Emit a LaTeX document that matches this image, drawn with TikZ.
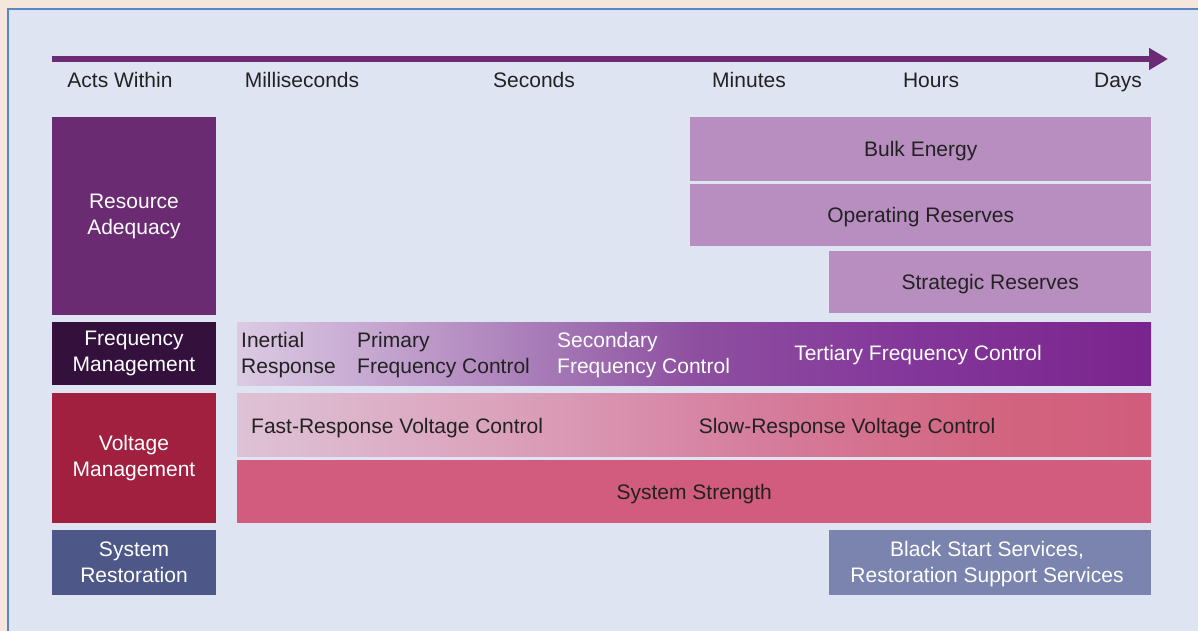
\documentclass[tikz,border=0pt]{standalone}
\usepackage{fontspec}
\setmainfont{Liberation Sans}
\usetikzlibrary{arrows.meta}

\definecolor{pagebg}{HTML}{F5E7DB}
\definecolor{panelbg}{HTML}{DFE4F2}
\definecolor{panelrule}{HTML}{5A86C4}
\definecolor{arrowpurple}{HTML}{6B2C73}
\definecolor{adequacy}{HTML}{6A2B72}
\definecolor{freqdark}{HTML}{34113C}
\definecolor{voltred}{HTML}{A1203F}
\definecolor{restblue}{HTML}{4D5888}
\definecolor{lilac}{HTML}{B88EC0}
\definecolor{rosepink}{HTML}{D15C7D}
\definecolor{slateblue}{HTML}{7B84AF}
\definecolor{inkgrey}{HTML}{222222}

% 渐变：25bp--75bp 对应条形的左右边
\pgfdeclarehorizontalshading{freqshade}{100bp}{
  rgb(0bp)=(0.863,0.792,0.890); rgb(25bp)=(0.863,0.792,0.890);
  rgb(30bp)=(0.804,0.702,0.843); rgb(38bp)=(0.706,0.549,0.757);
  rgb(43bp)=(0.635,0.455,0.702); rgb(50bp)=(0.557,0.310,0.627);
  rgb(61bp)=(0.518,0.220,0.608); rgb(75bp)=(0.478,0.141,0.553);
  rgb(100bp)=(0.478,0.141,0.553)}
\pgfdeclarehorizontalshading{voltshade}{100bp}{
  rgb(0bp)=(0.871,0.761,0.839); rgb(25bp)=(0.871,0.761,0.839);
  rgb(39bp)=(0.859,0.639,0.737); rgb(53bp)=(0.839,0.494,0.620);
  rgb(67bp)=(0.824,0.392,0.498); rgb(75bp)=(0.820,0.361,0.490);
  rgb(100bp)=(0.820,0.361,0.490)}

\tikzset{
  lbl/.style={font=\fontsize{21}{26}\selectfont, text=inkgrey, inner sep=0pt, align=center},
  catbox/.style={rectangle, inner sep=0pt, text=white, align=center,
    font=\fontsize{21}{26}\selectfont},
  bar/.style={rectangle, inner sep=0pt, anchor=north west, text=inkgrey, align=center,
    font=\fontsize{21}{26}\selectfont},
  onebar/.style={bar, text height=15pt, text depth=0pt},
}

\begin{document}
\begin{tikzpicture}[x=1pt,y=-1pt]
\useasboundingbox (0,0) rectangle (1198,631);
% 背景与面板
\fill[pagebg] (0,0) rectangle (1198,631);
\begin{scope}
\clip (0,0) rectangle (1198,631);
\draw[panelrule, fill=panelbg, line width=2.5pt] (8,9) rectangle (1215,650);
\end{scope}

% 时间轴
\coordinate (tstart) at (52,59);
\coordinate (tend) at (1168,59);
\draw[arrowpurple, line width=6.5pt, -{Triangle[length=19pt,width=21pt]}] (tstart) -- (tend);
\node[lbl, anchor=base] (acts) at (120,87.5) {Acts Within};
\node[lbl, anchor=base] (ms)   at (302,87.5) {Milliseconds};
\node[lbl, anchor=base] (sec)  at (534,87.5) {Seconds};
\node[lbl, anchor=base] (mins) at (749,87.5) {Minutes};
\node[lbl, anchor=base] (hrs)  at (931,87.5) {Hours};
\node[lbl, anchor=base] (days) at (1118,87.5) {Days};

% 左侧分类
\node[catbox, fill=adequacy, minimum width=164pt, minimum height=198pt] (adeq) at (134,216) {Resource\\Adequacy};
\node[catbox, fill=freqdark, minimum width=164pt, minimum height=63pt] (freq) at (134,353.5) {Frequency\\Management};
\node[catbox, fill=voltred, minimum width=164pt, minimum height=130pt] (volt) at (134,458) {Voltage\\Management};
\node[catbox, fill=restblue, minimum width=164pt, minimum height=65pt] (rest) at (134,562.5) {System\\Restoration};

% 资源充裕度
\node[onebar, fill=lilac, minimum width=461pt, minimum height=64pt] (bulk) at (690,117) {Bulk Energy};
\node[onebar, fill=lilac, minimum width=461pt, minimum height=62pt] (oper) at (690,184) {Operating Reserves};
\node[onebar, fill=lilac, minimum width=322pt, minimum height=62pt] (strat) at (829,251) {Strategic Reserves};

% 频率控制（渐变条）
\node[bar, minimum width=914pt, minimum height=63pt, shading=freqshade] (fbar) at (237,322) {};
\node[lbl, anchor=west, align=left] (inert) at (241,355) {Inertial\\Response};
\node[lbl, anchor=west, align=left] (prim) at (357,355) {Primary\\Frequency Control};
\node[lbl, anchor=west, align=left, text=white] (second) at (557,355) {Secondary\\Frequency Control};
\node[lbl, text=white] (tert) at (918,355) {Tertiary Frequency Control};

% 电压控制
\node[bar, minimum width=914pt, minimum height=63pt, shading=voltshade] (vbar) at (237,393) {};
\node[lbl, anchor=west] (fastv) at (251,428) {Fast-Response Voltage Control};
\node[lbl] (slowv) at (847,428) {Slow-Response Voltage Control};
\node[onebar, fill=rosepink, minimum width=914pt, minimum height=63pt] (strength) at (237,460) {System Strength};

% 系统恢复
\node[bar, fill=slateblue, text=white, minimum width=322pt, minimum height=65pt] (black) at (829,530) {};
\node[lbl, text=white] (blacktxt) at (987,564) {Black Start Services,\\Restoration Support Services};
\end{tikzpicture}
\end{document}
